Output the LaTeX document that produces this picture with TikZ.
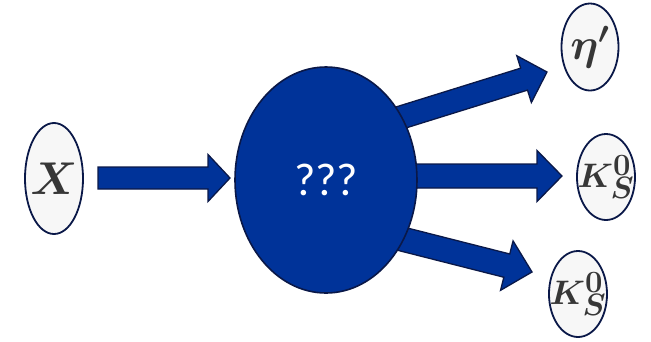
\RequirePackage{fix-cm}
\documentclass[tikz,border=0pt]{standalone}
\usepackage{bm}
\usepackage{fontspec}
\newfontfamily\qfont{Carlito}
\newcommand\bigscr[1]{\scalebox{1.3}{$\scriptstyle\bm{#1}$}}
\usetikzlibrary{shapes.geometric,calc}
\definecolor{mainblue}{RGB}{0,51,153}
\definecolor{navy}{RGB}{10,24,72}
\definecolor{pale}{RGB}{247,247,247}
\definecolor{txt}{RGB}{55,55,55}
\tikzset{
  particle/.style={ellipse,draw=navy,line width=1.8pt,fill=pale,inner sep=0pt},
  centre/.style={ellipse,draw=navy,line width=1.6pt,fill=mainblue,inner sep=0pt},
  fatarrow/.style={draw=navy,line width=1.3pt,fill=mainblue,line join=miter}
}
% #1 start, #2 tip, #3 shaft half width, #4 head half width, #5 head length
\newcommand\myfatarrow[5]{%
  \coordinate (#2base) at ($(#2)!#5!(#1)$);
  \path[fatarrow]
    ($(#1)!#3!90:(#2)$) -- ($(#2base)!#3!-90:(#1)$) -- ($(#2base)!#4!-90:(#1)$)
    -- (#2) -- ($(#2base)!#4!90:(#1)$) -- ($(#2base)!#3!90:(#1)$)
    -- ($(#1)!#3!-90:(#2)$) -- cycle;
}
\begin{document}
\begin{tikzpicture}[x=1pt,y=-1pt]
\useasboundingbox (0,0) rectangle (651,341);
% arrow end points
\coordinate (a1s) at (98,178);
\coordinate (a1t) at (230,178);
\coordinate (a2s) at (396,119);
\coordinate (a2t) at (547,72);
\coordinate (a3s) at (400,176);
\coordinate (a3t) at (562,176);
\coordinate (a4s) at (398,238);
\coordinate (a4t) at (532,272);
\myfatarrow{a1s}{a1t}{11pt}{23.5pt}{22pt}
\myfatarrow{a2s}{a2t}{11.5pt}{24.5pt}{24pt}
\myfatarrow{a3s}{a3t}{12pt}{25.5pt}{25pt}
\myfatarrow{a4s}{a4t}{12pt}{25.5pt}{26pt}
% nodes
\node[centre,minimum width=182pt,minimum height=226pt,
  label={[text=white,font=\qfont\fontsize{46}{46}\selectfont]center:???}] (mid) at (326,180) {};
\node[particle,minimum width=58pt,minimum height=111pt,
  label={[text=txt,font=\fontsize{46}{46}\selectfont]center:$\bm{X}$}] (x) at (54,178.5) {};
\node[particle,minimum width=57pt,minimum height=87pt,
  label={[text=txt,font=\fontsize{44}{44}\selectfont]center:$\bm{\eta'}$}] (eta) at (590,47) {};
\node[particle,minimum width=58pt,minimum height=86pt,
  label={[text=txt,font=\fontsize{34}{34}\selectfont]center:$\bm{K}^{\bigscr{0}}_{\bigscr{S}}$}] (k1) at (606,177) {};
\node[particle,minimum width=58pt,minimum height=86pt,
  label={[text=txt,font=\fontsize{34}{34}\selectfont]center:$\bm{K}^{\bigscr{0}}_{\bigscr{S}}$}] (k2) at (578,294) {};
\end{tikzpicture}
\end{document}
